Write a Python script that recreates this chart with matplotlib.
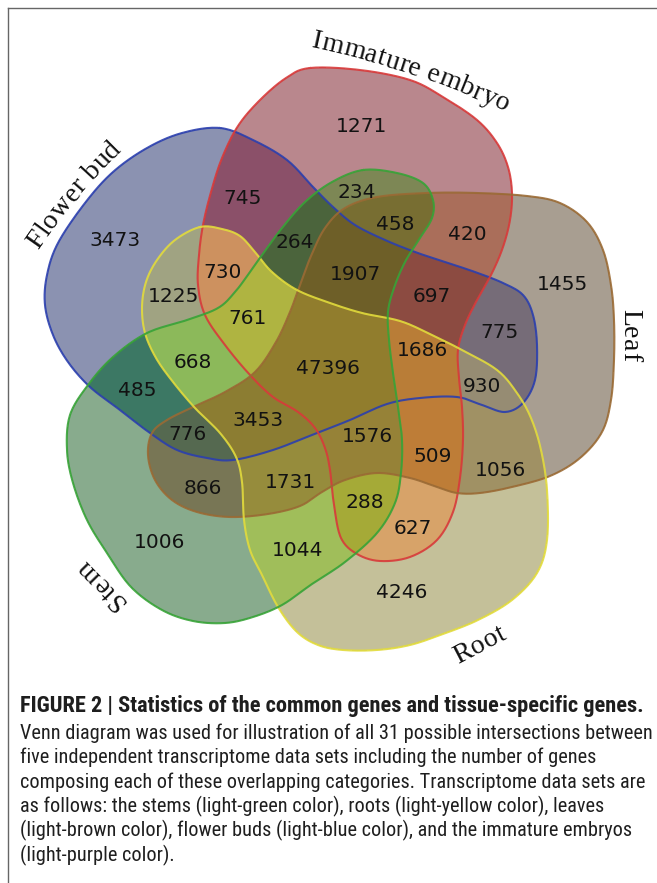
import matplotlib
matplotlib.use('Agg')
import matplotlib.pyplot as plt
import numpy as np
import os
from matplotlib.path import Path
from matplotlib.font_manager import FontProperties, fontManager

W, H = 657, 883

# five transcriptome sets
set_keys = ['F', 'E', 'L', 'R', 'S']
set_names = ['Flower bud', 'Immature embryo', 'Leaf', 'Root', 'Stem']

# region membership (letters of the sets it belongs to) and gene counts
region_keys = ['F', 'E', 'L', 'R', 'S',
               'FE', 'ES', 'EL', 'FL', 'LR', 'ER', 'RS', 'LS', 'FS', 'FR',
               'FER', 'FRS', 'FLR', 'FES', 'FEL', 'ELS', 'ELR', 'ERS', 'LRS', 'FLS',
               'FERS', 'FELS', 'FELR', 'ELRS', 'FLRS', 'FELRS']
region_counts = [3473, 1271, 1455, 4246, 1006,
                 745, 234, 420, 775, 1056, 627, 1044, 866, 485, 1225,
                 730, 668, 930, 264, 697, 458, 509, 288, 1731, 776,
                 761, 1907, 1686, 1576, 3453, 47396]

caption_lines = [
    "FIGURE 2 | Statistics of the common genes and tissue-specific genes.",
    "Venn diagram was used for illustration of all 31 possible intersections between",
    "five independent transcriptome data sets including the number of genes",
    "composing each of these overlapping categories. Transcriptome data sets are",
    "as follows: the stems (light-green color), roots (light-yellow color), leaves",
    "(light-brown color), flower buds (light-blue color), and the immature embryos",
    "(light-purple color).",
]

# ---- layout (pixel coordinates, y down) ----
count_xy = [(115, 240), (362, 127), (562, 285), (402, 592), (160, 543),
            (243, 198), (357, 192), (467, 235), (500, 332), (500, 470),
            (413, 528), (298, 550), (203, 488), (137, 390), (173, 297),
            (223, 273), (193, 362), (482, 387), (295, 242), (432, 297),
            (395, 225), (433, 457), (365, 502), (290, 482), (188, 435),
            (248, 318), (355, 275), (422, 351), (367, 437), (258, 420),
            (328, 368)]

outline_pts = {
    'F': [(220, 128), (253, 140), (287, 160), (313, 187), (333, 207), (355, 225), (385, 240),
          (415, 252), (445, 262), (475, 272), (503, 283), (523, 295), (533, 315), (537, 345),
          (535, 380), (523, 403), (505, 412), (482, 405), (457, 397), (420, 398), (387, 404),
          (350, 420), (317, 433), (273, 450), (233, 460), (207, 458), (177, 450), (150, 433),
          (120, 410), (90, 387), (68, 362), (53, 335), (45, 305), (47, 275), (58, 243),
          (85, 203), (113, 172), (147, 148), (182, 133)],
    'E': [(310, 68), (360, 70), (410, 80), (443, 97), (477, 120), (497, 143), (508, 167),
          (512, 193), (510, 220), (503, 247), (492, 273), (477, 300), (465, 325), (458, 350),
          (459, 378), (462, 407), (463, 440), (460, 478), (453, 512), (437, 540), (410, 557),
          (380, 561), (357, 554), (341, 538), (334, 505), (330, 470), (325, 448), (315, 428),
          (298, 412), (273, 397), (250, 375), (225, 345), (205, 315), (198, 285), (199, 255),
          (203, 225), (211, 192), (222, 158), (238, 126), (260, 100), (286, 78)],
    'L': [(377, 197), (427, 193), (477, 193), (527, 196), (560, 203), (587, 222), (603, 250),
          (611, 285), (614, 320), (614, 360), (611, 400), (602, 432), (580, 458), (550, 476),
          (512, 487), (480, 493), (457, 493), (437, 487), (410, 478), (377, 473), (345, 480),
          (322, 492), (300, 506), (268, 514), (230, 517), (197, 512), (172, 500), (155, 480),
          (148, 455), (152, 433), (167, 420), (193, 407), (225, 392), (255, 372), (276, 342),
          (290, 312), (300, 285), (311, 256), (325, 228), (345, 208)],
    'R': [(200, 227), (222, 229), (240, 236), (255, 252), (272, 272), (297, 290), (330, 303),
          (362, 313), (400, 321), (430, 334), (462, 350), (497, 370), (517, 393), (531, 418),
          (541, 450), (547, 490), (547, 540), (537, 573), (512, 600), (478, 620), (443, 634),
          (410, 645), (377, 650), (343, 650), (318, 645), (297, 632), (278, 607), (262, 575),
          (250, 550), (244, 520), (242, 482), (236, 457), (220, 433), (195, 408), (173, 382),
          (156, 358), (145, 333), (142, 307), (146, 282), (157, 260), (175, 240)],
    'S': [(363, 170), (397, 173), (423, 183), (433, 200), (432, 218), (420, 238), (405, 262),
          (394, 288), (388, 312), (389, 340), (393, 373), (398, 407), (402, 440), (401, 473),
          (395, 503), (377, 533), (345, 562), (312, 584), (282, 605), (253, 617), (225, 623),
          (193, 621), (162, 610), (131, 587), (107, 553), (87, 520), (73, 483), (67, 450),
          (70, 415), (88, 385), (113, 357), (147, 333), (187, 320), (218, 308), (235, 292),
          (250, 272), (262, 255), (282, 228), (305, 202), (332, 182)],
}

edge_colors = {'F': '#2b3fae', 'E': '#d83a3a', 'L': '#9a6a34', 'R': '#e2db3c', 'S': '#37a337'}

region_colors = {
    'F': (139, 146, 177), 'E': (185, 135, 141), 'L': (168, 158, 145),
    'R': (196, 192, 153), 'S': (136, 171, 141),
    'FE': (139, 80, 105), 'ES': (125, 135, 85), 'EL': (170, 110, 90), 'FL': (118, 108, 120),
    'LR': (160, 145, 100), 'ER': (215, 163, 105), 'RS': (160, 190, 90), 'LS': (120, 118, 85),
    'FS': (60, 120, 100), 'FR': (160, 163, 130),
    'FER': (205, 145, 95), 'FRS': (140, 185, 90), 'FLR': (150, 140, 115), 'FES': (75, 100, 60),
    'FEL': (140, 75, 65), 'ELS': (120, 110, 50), 'ELR': (190, 125, 55), 'ERS': (165, 170, 55),
    'LRS': (150, 140, 60), 'FLS': (85, 105, 80),
    'FERS': (175, 180, 65), 'FELS': (110, 95, 40), 'FELR': (185, 125, 55),
    'ELRS': (150, 130, 55), 'FLRS': (140, 125, 50), 'FELRS': (145, 125, 45),
}

# set name placement: baseline midpoint, heading (deg, clockwise on screen), turn per px
name_layout = {
    'Flower bud': ((78, 198), -50.0, np.radians(12) / 140),
    'Immature embryo': ((410, 74), 18.5, np.radians(12) / 190),
    'Leaf': ((623, 335), 90.0, 0.0),
    'Root': ((483, 651), -27.4, 0.0),
    'Stem': ((107, 580), -134.3, 0.0),
}


def closed_spline(pts, n=14):
    p = np.asarray(pts, float)
    p0, p1, p2, p3 = np.roll(p, 1, 0), p, np.roll(p, -1, 0), np.roll(p, -2, 0)
    t = np.linspace(0, 1, n, endpoint=False)[:, None, None]
    c = 0.5 * (2 * p1 + (p2 - p0) * t + (2 * p0 - 5 * p1 + 4 * p2 - p3) * t ** 2
               + (3 * p1 - p0 - 3 * p2 + p3) * t ** 3)
    c = c.transpose(1, 0, 2).reshape(-1, 2)
    return np.vstack([c, c[:1]])


def font_file(*patterns):
    for pat in patterns:
        for f in fontManager.ttflist:
            if os.path.basename(f.fname).lower() == pat.lower():
                return f.fname
    return None


fig = plt.figure(figsize=(W / 100, H / 100), dpi=100)
ax = fig.add_axes([0, 0, 1, 1])
renderer = fig.canvas.get_renderer()


def text_width(s, fp):
    return renderer.get_text_width_height_descent(s, fp, ismath=False)[0]


def curved_text(text, mid, heading, curv, fp):
    adv = []
    for ch in text:
        if ch == ' ':
            adv.append(text_width('a a', fp) - text_width('aa', fp))
        else:
            adv.append(text_width(ch, fp) + 0.4)
    adv = np.array(adv)
    s = np.cumsum(adv) - adv / 2 - adv.sum() / 2
    h = np.radians(heading)
    xc, yc = mid
    for ch, si in zip(text, s):
        if abs(curv) < 1e-9:
            x, y = xc + si * np.cos(h), yc + si * np.sin(h)
        else:
            x = xc + (np.sin(h + curv * si) - np.sin(h)) / curv
            y = yc - (np.cos(h + curv * si) - np.cos(h)) / curv
        ax.text(x, y, ch, fontproperties=fp, rotation=-np.degrees(h + curv * si),
                rotation_mode='anchor', ha='center', va='baseline', color='#111111', zorder=4)


# rasterise the set memberships and colour each of the 31 regions
curves = {k: closed_spline(outline_pts[k]) for k in set_keys}
gh = 680
gx, gy = np.meshgrid(np.arange(W) + 0.5, np.arange(gh) + 0.5)
grid = np.column_stack([gx.ravel(), gy.ravel()])
inside = {k: Path(curves[k]).contains_points(grid).reshape(gy.shape) for k in set_keys}

img = np.ones((gh, W, 3))
for key in region_keys:
    sel = np.ones(gy.shape, bool)
    for k in set_keys:
        sel &= inside[k] if k in key else ~inside[k]
    img[sel] = np.array(region_colors[key]) / 255.0
ax.imshow(img, extent=(0, W, gh, 0), interpolation='bilinear', zorder=0)

for k in set_keys:
    c = curves[k]
    ax.plot(c[:, 0], c[:, 1], color=edge_colors[k], lw=1.5, alpha=0.9, zorder=2)

for n, (x, y) in zip(region_counts, count_xy):
    ax.text(x, y, f'{n}', ha='center', va='center', fontsize=14.5,
            family='DejaVu Sans', color='#121212', zorder=3)

label_fp = FontProperties(family='Liberation Serif', size=20)
for name in set_names:
    mid, heading, curv = name_layout[name]
    curved_text(name, mid, heading, curv, label_fp)

# caption, in a narrow sans face when one is installed
reg_file = font_file('LiberationSansNarrow-Regular.ttf', 'RobotoCondensed-Regular.ttf',
                     'DejaVuSansCondensed.ttf')
bold_file = font_file('LiberationSansNarrow-Bold.ttf', 'RobotoCondensed-Bold.ttf',
                      'DejaVuSansCondensed-Bold.ttf')
fp_r = FontProperties(fname=reg_file, size=10) if reg_file else \
    FontProperties(family='Liberation Sans', size=10)
fp_b = FontProperties(fname=bold_file, size=10) if bold_file else \
    FontProperties(family='Liberation Sans', weight='bold', size=10)
size_b = 10 * 624 / text_width(caption_lines[0], fp_b)
size_r = 10 * 626 / text_width(caption_lines[1], fp_r)
fp_b.set_size(size_b)
fp_r.set_size(size_r)
baselines = [712, 739, 763, 788, 812, 836, 861]
for i, (line, yb) in enumerate(zip(caption_lines, baselines)):
    ax.text(20, yb, line, ha='left', va='baseline',
            fontproperties=fp_b if i == 0 else fp_r, color='#1e1e1e')

# panel frame (left and top edges)
ax.plot([7.5, 7.5], [H, 8], color='#666666', lw=1.0)
ax.plot([7.5, W], [8, 8], color='#666666', lw=1.0)

ax.set_xlim(0, W)
ax.set_ylim(H, 0)
ax.axis('off')
fig.savefig('out.png', dpi=100)
